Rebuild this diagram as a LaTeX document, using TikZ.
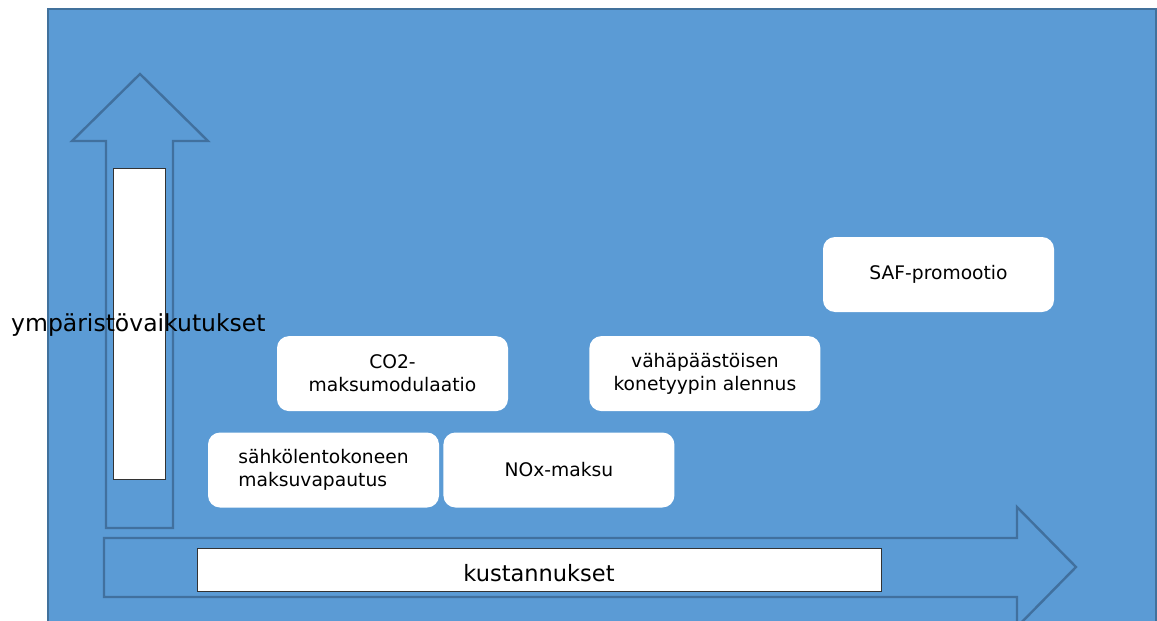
\documentclass[tikz,border=0pt]{standalone}
\usepackage{fontspec}
\setmainfont{DejaVu Sans}
\usepackage{tikz}
\usetikzlibrary{positioning}
\definecolor{Sky}{HTML}{5B9BD5}
\definecolor{Rim}{HTML}{41719C}
\definecolor{Outl}{HTML}{41709E}

\begin{document}
\begin{tikzpicture}[x=1pt,y=-1pt,
  measure/.style={fill=white,rounded corners=12pt,inner sep=0pt,align=center,
               minimum width=231pt,minimum height=75pt,
               font=\fontsize{18.7}{23}\selectfont},
  axisbar/.style={draw=black!80,fill=white,line width=1pt,inner sep=0pt},
  axisname/.style={font=\fontsize{23.5}{27}\selectfont,inner sep=0pt},
  bigarrow/.style={draw=Outl,line width=2.4pt,line join=miter}]
\useasboundingbox (0,0) rectangle (1157,621);
% backdrop
\fill[Sky] (48,9) rectangle (1156,640);
\draw[Rim,line width=2pt] (48,640) -- (48,9) -- (1156,9) -- (1156,640);
% the two axis arrows
\draw[bigarrow] (106,528) -- (106,141) -- (72,141) -- (140,74)
  -- (208,141) -- (173,141) -- (173,528) -- cycle;
\draw[bigarrow] (104,538) -- (1017,538) -- (1017,507) -- (1076,567)
  -- (1017,627) -- (1017,597) -- (104,597) -- cycle;
\node[axisbar,minimum width=52pt,minimum height=311pt] (vbar) at (139,323.5) {};
\node[axisbar,minimum width=684pt,minimum height=43pt,text height=23.5pt,
      font=\fontsize{22.5}{27}\selectfont] (hbar) at (539,569.5) {kustannukset};
\node[axisname,anchor=west] (ylab) at (11,325.5) {ympäristövaikutukset};
% measures
\node[measure,align=left] (elec) at (323.5,470)
  {sähkölentokoneen\\maksuvapautus};
\node[measure,right=4pt of elec] (nox) {NOx-maksu};
\node[measure,above=21pt of elec.north west,anchor=south west,xshift=69pt] (co2)
  {CO2-\\maksumodulaatio};
\node[measure,right=81pt of co2] (lowem)
  {vähäpäästöisen\\konetyypin alennus};
\node[measure] (saf) at (938.5,274.5) {SAF-promootio};
\end{tikzpicture}
\end{document}
